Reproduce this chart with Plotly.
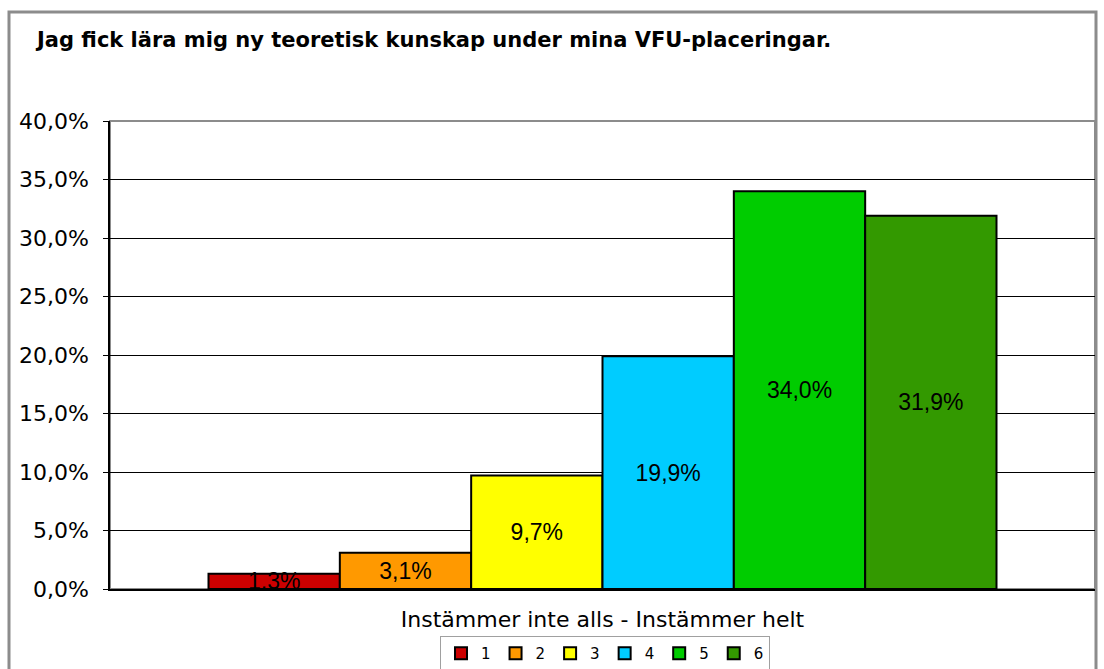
import plotly.graph_objects as go

category = ["Instämmer inte alls - Instämmer helt"]
series_names = ["1", "2", "3", "4", "5", "6"]
values = [0.013, 0.031, 0.097, 0.199, 0.340, 0.319]
colors = ["#CC0000", "#FF9900", "#FFFF00", "#00CCFF", "#00CC00", "#339900"]
y_ticks = [0.0, 0.05, 0.10, 0.15, 0.20, 0.25, 0.30, 0.35, 0.40]

fig = go.Figure()
for name, v, c in zip(series_names, values, colors):
    fig.add_trace(go.Bar(
        x=category, y=[v], name=name,
        marker=dict(color=c, line=dict(color="black", width=2)),
        texttemplate="%{y:.1%}", textposition="inside",
        insidetextanchor="middle", constraintext="none",
        textfont=dict(family="Liberation Sans, Arial", size=23, color="black"),
    ))

fig.update_layout(
    width=1104, height=669, autosize=False,
    margin=dict(l=110, r=9, t=121, b=80),
    paper_bgcolor="white", plot_bgcolor="white",
    separators=", ",
    barmode="group", bargap=0.2, bargroupgap=0,
    title=dict(text="<b>Jag fick lära mig ny teoretisk kunskap under mina VFU-placeringar.</b>",
               x=37 / 1104, xanchor="left", xref="container",
               y=1 - 40 / 669, yanchor="middle", yref="container",
               font=dict(family="DejaVu Sans, Verdana", size=21, color="black")),
    showlegend=True,
    legend=dict(orientation="h", xref="container", yref="container",
                x=605 / 1104, xanchor="center", y=1 - 636 / 669, yanchor="top",
                bordercolor="#A0A0A0", borderwidth=1, bgcolor="white",
                font=dict(family="DejaVu Sans, Verdana", size=15, color="black"),
                itemwidth=30, traceorder="normal"),
    xaxis=dict(showline=True, linecolor="black", linewidth=1.5, ticks="",
               ticklabelstandoff=10, automargin=False,
               tickfont=dict(family="DejaVu Sans, Verdana", size=22, color="black"),
               showgrid=False),
    yaxis=dict(range=[0, 0.4], tickvals=y_ticks, tickformat=".1%",
               showline=True, linecolor="black", linewidth=1.5,
               showgrid=True, gridcolor="black", gridwidth=1,
               ticks="outside", ticklen=5, tickcolor="black",
               ticklabelstandoff=10, automargin=False,
               tickfont=dict(family="DejaVu Sans, Verdana", size=22, color="black"),
               zeroline=False),
    shapes=[
        dict(type="rect", xref="paper", yref="paper", x0=0, x1=1, y0=0, y1=1,
             line=dict(color="#8C8C8C", width=2), layer="below"),
        dict(type="rect", xref="paper", yref="paper",
             x0=(9 - 110) / 985, x1=(1096 - 110) / 985,
             y0=-0.3, y1=(589 - 12) / 468,
             line=dict(color="#8C8C8C", width=3), layer="below"),
    ],
)

fig.write_html("out.html", config={"displayModeBar": False},
               post_script="document.body.style.margin='0';document.body.style.overflow='hidden';")
